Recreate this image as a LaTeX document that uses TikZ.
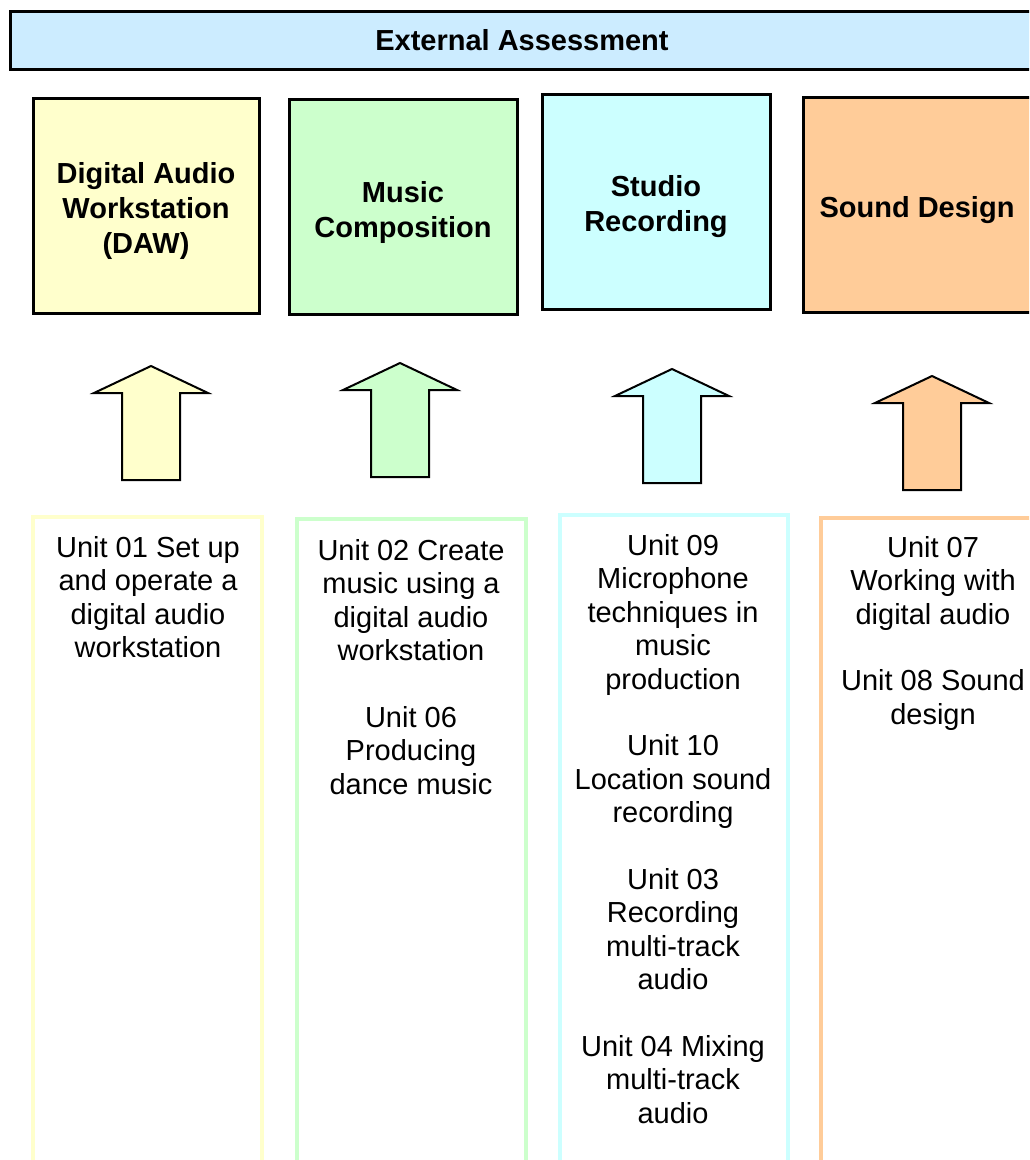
\documentclass[tikz,border=0pt]{standalone}
\usepackage{fontspec}
\setmainfont{Liberation Sans}
\definecolor{hdr}{HTML}{CCECFF}
\definecolor{cdaw}{HTML}{FFFFCC}
\definecolor{cmus}{HTML}{CCFFCC}
\definecolor{cstu}{HTML}{CCFFFF}
\definecolor{csnd}{HTML}{FFCC99}
\tikzset{
  hdrbar/.style={draw=black, line width=3pt, fill=hdr, minimum width=1024pt, minimum height=58pt, inner sep=0pt, font=\fontsize{29}{35}\selectfont\bfseries},
  titlebox/.style={draw=black, line width=3pt, minimum width=228pt, minimum height=215pt, inner sep=0pt},
  titletext/.style={align=center, font=\fontsize{29}{35}\selectfont\bfseries, inner sep=0pt},
  unitcol/.style={line width=3.5pt},
  unittext/.style={align=center, font=\fontsize{29}{33.5}\selectfont, inner sep=0pt, anchor=north},
  blockarrow/.style={draw=black, line width=2pt, line join=miter},
}
\newcommand\blockup[3]{%
  \draw[blockarrow, fill=#1] (#2,#3) -- ++(57,27) -- ++(-28,0) -- ++(0,87) -- ++(-58,0) -- ++(0,-87) -- ++(-28,0) -- cycle;}
\begin{document}
\begin{tikzpicture}[x=1pt,y=-1pt]
\useasboundingbox (0,0) rectangle (1029,1160);
\clip (0,0) rectangle (1029,1160);

% header
\node[hdrbar] (hdr) at (522,40) {External Assessment};

% title boxes
\node[titlebox, fill=cdaw, minimum width=226pt] (daw) at (146,206) {};
\node[titlebox, fill=cmus] (mus) at (403,207) {};
\node[titlebox, fill=cstu] (stu) at (656,202) {};
\node[titlebox, fill=csnd] (snd) at (917,204.5) {};
\node[titletext] (dawt) at ([yshift=-5pt]daw.center) {Digital Audio\\Workstation\\(DAW)};
\node[titletext] (must) at ([yshift=-5pt]mus.center) {Music\\Composition};
\node[titletext] (stut) at ([yshift=-5pt]stu.center) {Studio\\Recording};
\node[titletext] (sndt) at ([yshift=-6pt]snd.center) {Sound Design};

% block arrows
\blockup{cdaw}{151}{366}
\blockup{cmus}{400}{363}
\blockup{cstu}{672}{369}
\blockup{csnd}{932}{376}

% unit columns
\draw[unitcol, draw=cdaw] (33,1200) -- (33,517) -- (262,517) -- (262,1200);
\draw[unitcol, draw=cmus] (297,1200) -- (297,519) -- (526,519) -- (526,1200);
\draw[unitcol, draw=cstu] (560,1200) -- (560,515) -- (788,515) -- (788,1200);
\draw[unitcol, draw=csnd] (821,1200) -- (821,518) -- (1050,518) -- (1050,1200);

% unit texts
\node[unittext] (u1) at (148,536) {Unit 01 Set up\\and operate a\\digital audio\\workstation};
\node[unittext] (u2) at (411,539) {Unit 02 Create\\music using a\\digital audio\\workstation\\[33pt]Unit 06\\Producing\\dance music};
\node[unittext] (u3) at (673,534) {Unit 09\\Microphone\\techniques in\\music\\production\\[33pt]Unit 10\\Location sound\\recording\\[33pt]Unit 03\\Recording\\multi-track\\audio\\[33pt]Unit 04 Mixing\\multi-track\\audio};
\node[unittext] (u4) at (933,536) {Unit 07\\Working with\\digital audio\\[33pt]Unit 08 Sound\\design};
\end{tikzpicture}
\end{document}
